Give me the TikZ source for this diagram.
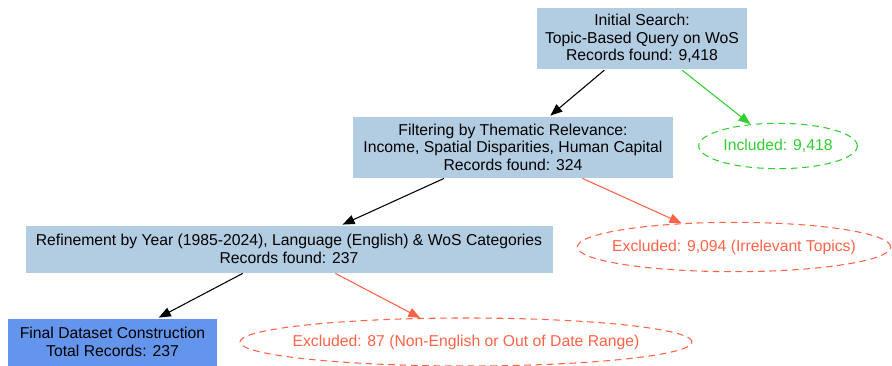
\documentclass[tikz,border=0pt]{standalone}
\usepackage{fontspec}
\setmainfont{Liberation Sans}
\usepackage{xcolor}
\usetikzlibrary{arrows.meta,positioning,shapes.geometric}

\definecolor{stepblue}{HTML}{B2CCE2}
\definecolor{finalblue}{HTML}{6495ED}
\definecolor{okgreen}{HTML}{32CD32}
\definecolor{dropred}{HTML}{FF6347}

\begin{document}
\begin{tikzpicture}[x=0.75pt, y=-0.75pt,
                    every node/.style={font=\fontsize{11.8}{13.2}\selectfont, align=center},
                    stage/.style={rectangle, fill=stepblue, draw=white, line width=0.6pt, inner sep=2pt},
                    outcome/.style={ellipse, dashed, dash pattern=on 5pt off 3.5pt, line width=0.8pt,
                                    inner xsep=-14pt, inner ysep=0pt},
                    >={Triangle[length=9pt, width=7pt]}]
    \useasboundingbox (0,0) rectangle (892,366);

   \node[stage, minimum width=158pt, minimum height=47pt] (search) at (642,38.5)
        {Initial Search:\\Topic-Based Query on WoS\\Records found: 9,418};
   \node[stage, minimum width=241pt, minimum height=46.5pt] (thematic) at (513,147)
        {Filtering by Thematic Relevance:\\Income, Spatial Disparities, Human Capital\\Records found: 324};
   \node[stage, minimum width=396pt, minimum height=36pt] (refine) at (289,249)
        {Refinement by Year (1985-2024), Language (English) \& WoS Categories\\Records found: 237};
   \node[stage, fill=finalblue, minimum width=157pt, minimum height=36pt] (final) at (112.5,342)
        {Final Dataset Construction\\Total Records: 237};

   \node[outcome, draw=okgreen, text=okgreen, minimum width=119pt, minimum height=34pt] (included) at (778,146)
        {Included: 9,418};
   \node[outcome, draw=dropred, text=dropred, minimum width=235pt, minimum height=37pt] (excl_topic) at (734,247)
        {Excluded: 9,094 (Irrelevant Topics)};
   \node[outcome, draw=dropred, text=dropred, minimum width=339pt, minimum height=36pt] (excl_range) at (466,342)
        {Excluded: 87 (Non-English or Out of Date Range)};

   % Define transitions
   \path[->, line width=0.8pt]
   (search) edge (thematic)
   (search) edge [okgreen] (included)
   (thematic) edge (refine)
   (thematic) edge [dropred] (excl_topic)
   (refine) edge (final)
   (refine) edge [dropred] (excl_range);

\end{tikzpicture}
\end{document}
